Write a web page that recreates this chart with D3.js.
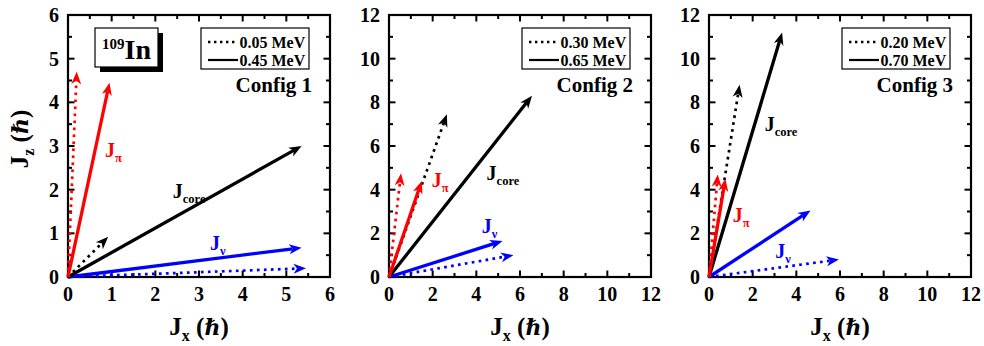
<!DOCTYPE html>
<html><head><meta charset="utf-8">
<script src="https://cdn.jsdelivr.net/npm/d3@7"></script>
<style>
html,body{margin:0;padding:0;background:#fff;}
svg{display:block;}
text{font-family:"Liberation Serif","Times New Roman",serif;font-weight:bold;}
.hbar{font-family:"DejaVu Serif",serif;font-style:italic;font-weight:bold;}
</style></head>
<body>
<svg id="chart" width="984" height="346"></svg>
<script>
// ---------- data ----------
const configs = ["Config 1", "Config 2", "Config 3"];
const axisMax = [6, 12, 12];
const tickStep = [1, 2, 2];
const lowEnergy = ["0.05 MeV", "0.30 MeV", "0.20 MeV"];   // dotted
const highEnergy = ["0.45 MeV", "0.65 MeV", "0.70 MeV"];  // solid
// vector tips [Jx, Jz] per config
const jpiLow   = [[0.20, 4.70], [0.55, 4.75], [0.40, 4.70]];
const jpiHigh  = [[0.95, 4.45], [1.50, 4.40], [0.75, 4.50]];
const jnuLow   = [[5.45, 0.20], [5.70, 1.00], [5.95, 0.80]];
const jnuHigh  = [[5.35, 0.67], [5.20, 1.65], [4.65, 3.05]];
const jcoreLow = [[0.92, 0.92], [2.65, 7.45], [1.40, 8.80]];
const jcoreHigh= [[5.35, 3.00], [6.55, 8.30], [3.35, 11.20]];
// label anchors in data units [Jx, Jz]
const labelPi   = [[0.85, 2.75], [1.96, 4.12], [1.09, 2.52]];
const labelCore = [[2.40, 1.81], [4.47, 4.44], [2.55, 6.69]];
const labelNu   = [[3.25, 0.62], [4.25, 2.00], [3.04, 0.87]];

// ---------- layout ----------
const panelLeft = [68, 389, 709];
const plotTop = 15, size = 262;
const colors = {pi: "#ff0000", nu: "#0000ff", core: "#000000"};

const svg = d3.select("#chart");
const defs = svg.append("defs");
Object.entries(colors).forEach(([k, c]) => {
  defs.append("marker").attr("id", "head-" + k)
    .attr("viewBox", "-13 -6 14 12").attr("refX", 0).attr("refY", 0)
    .attr("markerWidth", 14).attr("markerHeight", 12)
    .attr("markerUnits", "userSpaceOnUse").attr("orient", "auto")
    .append("path").attr("d", "M0,0 L-12.5,-5 L-9,0 L-12.5,5 Z").attr("fill", c);
});

const addTitle = (sel, sub) => {
  sel.append("tspan").text("J");
  sel.append("tspan").attr("font-size", 16).attr("dy", 6).text(sub);
  sel.append("tspan").attr("dy", -6).text(" (");
  sel.append("tspan").attr("class", "hbar").attr("font-size", 22).text("\u210F");
  sel.append("tspan").text(")");
};

configs.forEach((cfg, i) => {
  const g = svg.append("g").attr("transform", `translate(${panelLeft[i]},${plotTop})`);
  const x = d3.scaleLinear().domain([0, axisMax[i]]).range([0, size]);
  const y = d3.scaleLinear().domain([0, axisMax[i]]).range([size, 0]);
  const major = d3.range(0, axisMax[i] + 0.001, tickStep[i]);
  const minor = d3.range(tickStep[i] / 2, axisMax[i], tickStep[i]);

  // ticks (inward, all four sides)
  const tk = g.append("g").attr("stroke", "#000").attr("stroke-width", 2);
  const addTicks = (vals, len) => {
    vals.forEach(v => {
      tk.append("line").attr("x1", x(v)).attr("x2", x(v)).attr("y1", size).attr("y2", size - len);
      tk.append("line").attr("x1", x(v)).attr("x2", x(v)).attr("y1", 0).attr("y2", len);
      tk.append("line").attr("y1", y(v)).attr("y2", y(v)).attr("x1", 0).attr("x2", len);
      tk.append("line").attr("y1", y(v)).attr("y2", y(v)).attr("x1", size).attr("x2", size - len);
    });
  };
  addTicks(major, 6.5);
  addTicks(minor, 4);
  g.append("rect").attr("width", size).attr("height", size)
    .attr("fill", "none").attr("stroke", "#000").attr("stroke-width", 2.2);

  // tick labels
  g.selectAll(".xl").data(major).join("text").attr("class", "xl")
    .attr("x", d => x(d)).attr("y", size + 24).attr("text-anchor", "middle")
    .attr("font-size", 20).text(d => d);
  g.selectAll(".yl").data(major).join("text").attr("class", "yl")
    .attr("x", -9).attr("y", d => y(d) + 7).attr("text-anchor", "end")
    .attr("font-size", 20).text(d => d);

  // x title
  const xt = g.append("text").attr("x", size / 2).attr("y", size + 58)
    .attr("text-anchor", "middle").attr("font-size", 25);
  addTitle(xt, "x");

  // arrows
  const drawArrow = (tip, color, key, dotted) => {
    const px = x(tip[0]), py = y(tip[1]);
    const L = Math.hypot(px - x(0), py - y(0));
    const shorten = 9;
    const ex = x(0) + (px - x(0)) * (L - shorten) / L;
    const ey = y(0) + (py - y(0)) * (L - shorten) / L;
    g.append("line").attr("x1", x(0)).attr("y1", y(0)).attr("x2", ex).attr("y2", ey)
      .attr("stroke", color).attr("stroke-width", dotted ? 2.7 : 3.3)
      .attr("stroke-dasharray", dotted ? "2.7,4.3" : null);
    g.append("line").attr("x1", ex).attr("y1", ey).attr("x2", px).attr("y2", py)
      .attr("stroke", color).attr("stroke-width", 0.01).attr("marker-end", `url(#head-${key})`);
  };
  drawArrow(jnuLow[i], colors.nu, "nu", true);
  drawArrow(jnuHigh[i], colors.nu, "nu", false);
  drawArrow(jcoreLow[i], colors.core, "core", true);
  drawArrow(jcoreHigh[i], colors.core, "core", false);
  drawArrow(jpiLow[i], colors.pi, "pi", true);
  drawArrow(jpiHigh[i], colors.pi, "pi", false);

  // vector labels
  const vlabel = (pos, sub, color) => {
    const t = g.append("text").attr("x", x(pos[0])).attr("y", y(pos[1]))
      .attr("fill", color).attr("font-size", 20);
    t.append("tspan").text("J");
    t.append("tspan").attr("font-size", 12.5).attr("dy", 5).text(sub);
  };
  vlabel(labelPi[i], "\u03C0", colors.pi);
  vlabel(labelCore[i], "core", colors.core);
  vlabel(labelNu[i], "\u03BD", colors.nu);

  // legend
  const lg = g.append("g").attr("transform", `translate(${size - 129},13)`);
  lg.append("rect").attr("width", 108).attr("height", 41)
    .attr("fill", "#fff").attr("stroke", "#000").attr("stroke-width", 1.2);
  lg.append("line").attr("x1", 7).attr("x2", 36).attr("y1", 14).attr("y2", 14)
    .attr("stroke", "#000").attr("stroke-width", 2.4).attr("stroke-dasharray", "2.4,3.6");
  lg.append("line").attr("x1", 7).attr("x2", 37).attr("y1", 32).attr("y2", 32)
    .attr("stroke", "#000").attr("stroke-width", 2.2);
  lg.append("text").attr("x", 38.5).attr("y", 19.5).attr("font-size", 16).text(lowEnergy[i]);
  lg.append("text").attr("x", 38.5).attr("y", 37.5).attr("font-size", 16).text(highEnergy[i]);

  g.append("text").attr("x", size - 18).attr("y", 77).attr("text-anchor", "end")
    .attr("font-size", 21).text(cfg);

  if (i === 0) {
    const nb = g.append("g").attr("transform", "translate(27,13)");
    nb.append("rect").attr("x", 5).attr("y", 5).attr("width", 63).attr("height", 39).attr("fill", "#000");
    nb.append("rect").attr("width", 63).attr("height", 39).attr("fill", "#fff")
      .attr("stroke", "#000").attr("stroke-width", 1.2);
    const nt = nb.append("text").attr("x", 31.5).attr("y", 31).attr("text-anchor", "middle").attr("font-size", 28);
    nt.append("tspan").attr("font-size", 15).attr("dy", -10).text("109");
    nt.append("tspan").attr("dy", 10).text("In");

    const yt = g.append("text").attr("transform", `translate(-40,${size / 2 - 7}) rotate(-90)`)
      .attr("text-anchor", "middle").attr("font-size", 25);
    addTitle(yt, "z");
  }
});
</script>
</body></html>
